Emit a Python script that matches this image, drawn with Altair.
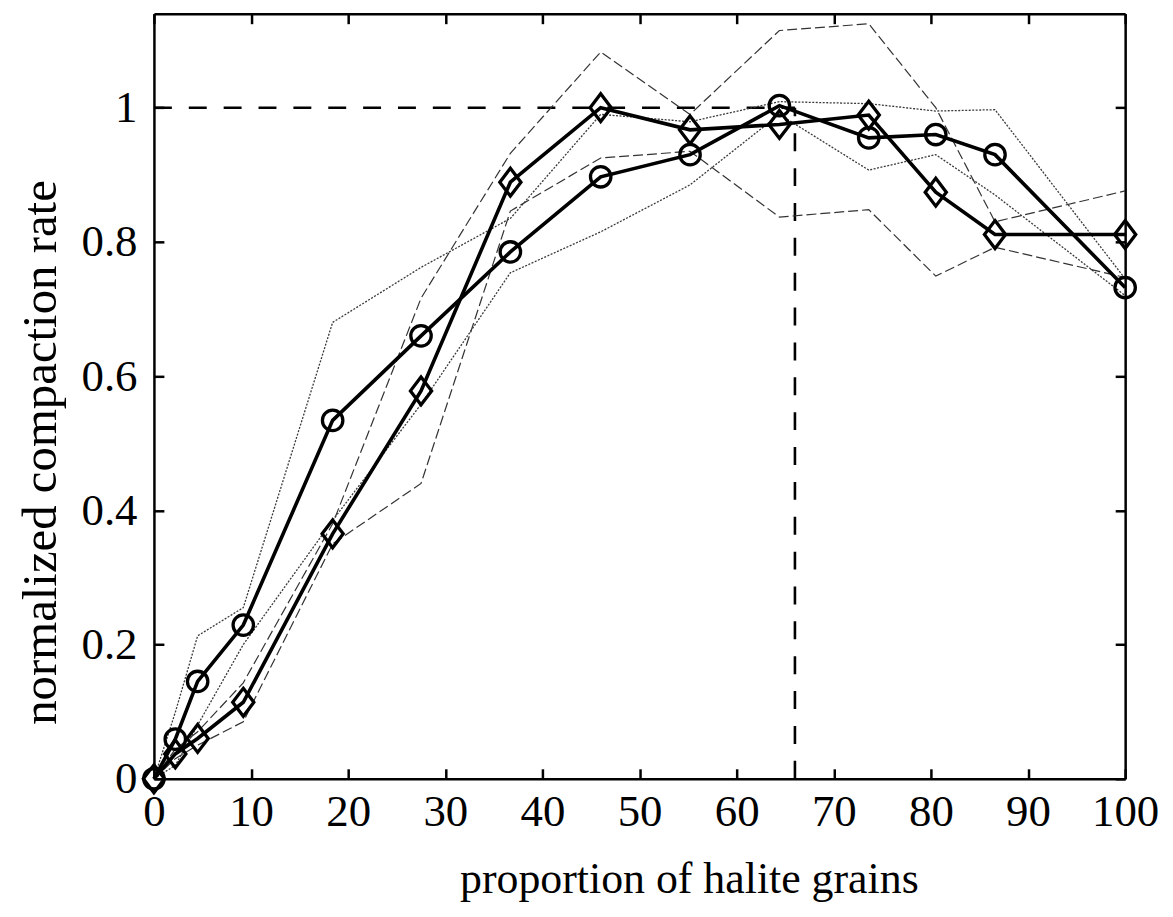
import altair as alt
import pandas as pd

# ---- data ----
X = [0, 2.2, 4.5, 9.2, 18.4, 27.5, 36.7, 46.0, 55.2, 64.4, 73.6, 80.5, 86.6, 100]

CIRCLE = [0, 0.059, 0.145, 0.229, 0.534, 0.660, 0.785, 0.897, 0.930, 1.003, 0.955, 0.960, 0.930, 0.732]
DIAMOND = [0, 0.037, 0.060, 0.114, 0.365, 0.578, 0.889, 1.000, 0.967, 0.975, 0.989, 0.874, 0.811, 0.811]

DASH_1 = [0, 0.044, 0.070, 0.143, 0.380, 0.716, 0.932, 1.083, 0.990, 1.115, 1.125, 1.000, 0.830, 0.876]
DASH_2 = [0, 0.030, 0.050, 0.085, 0.350, 0.440, 0.846, 0.925, 0.935, 0.837, 0.848, 0.749, 0.792, 0.747]

DOT_1 = [0, 0.099, 0.213, 0.255, 0.680, 0.762, 0.835, 0.990, 0.979, 1.009, 1.006, 0.995, 0.997, 0.745]
DOT_2 = [0, 0.020, 0.080, 0.200, 0.385, 0.558, 0.754, 0.815, 0.885, 0.990, 0.907, 0.930, 0.870, 0.720]

REF_X = 66
REF_Y = 1

X_TICKS = [0, 10, 20, 30, 40, 50, 60, 70, 80, 90, 100]
Y_TICKS = [0, 0.2, 0.4, 0.6, 0.8, 1]
X_DOMAIN = [0, 100]
Y_DOMAIN = [0, 1.14]

X_TITLE = "proportion of halite grains"
Y_TITLE = "normalized compaction rate"

# ---- tables ----
def long(series_map):
    rows = []
    for name, vals in series_map.items():
        for i, (x, y) in enumerate(zip(X, vals)):
            rows.append({"series": name, "x": x, "y": y, "order": i})
    return pd.DataFrame(rows)

dashed = long({"dash1": DASH_1, "dash2": DASH_2})
dotted = long({"dot1": DOT_1, "dot2": DOT_2})
circles = long({"circle": CIRCLE})
diamonds = long({"diamond": DIAMOND})
ref = pd.DataFrame({"x": [0, REF_X], "x2": [REF_X, REF_X],
                    "y": [REF_Y, 0], "y2": [REF_Y, REF_Y]})

# ---- layout ----
W, H = 975, 768
FONT = "Liberation Serif"
xs = alt.Scale(domain=X_DOMAIN, nice=False, zero=False)
ys = alt.Scale(domain=Y_DOMAIN, nice=False, zero=False)

common_axis = dict(grid=False, tickSize=10, tickWidth=2.5, tickColor="black",
                   domainColor="black", domainWidth=2.5)

x_axis_main = alt.Axis(
    orient="top", offset=-H, values=X_TICKS, **common_axis,
    labelFont=FONT, labelFontSize=45, labelColor="black",
    labelPadding=-57, labelBaseline="alphabetic", labelAlign="center",
    labelFlush=False, labelOverlap=False,
    title=X_TITLE, titleFont=FONT, titleFontSize=44, titleFontWeight="normal",
    titleColor="black", titleX=537, titleY=114, titleAlign="center",
    titleBaseline="alphabetic", titleAngle=0)

y_axis_main = alt.Axis(
    orient="right", offset=-W, values=Y_TICKS, format="~g", **common_axis,
    labelFont=FONT, labelFontSize=45, labelColor="black",
    labelPadding=-27, labelAlign="right", labelBaseline="middle",
    labelFlush=False, labelOverlap=False,
    title=Y_TITLE, titleFont=FONT, titleFontSize=49, titleFontWeight="normal",
    titleColor="black", titleX=-99, titleY=440, titleAlign="center",
    titleBaseline="alphabetic", titleAngle=270)

x_axis_box = alt.Axis(orient="bottom", offset=-H, values=X_TICKS, labels=False,
                      title="", **common_axis)
y_axis_box = alt.Axis(orient="left", offset=-W, values=Y_TICKS, labels=False,
                      title="", **common_axis)

def enc_xy(xaxis=None, yaxis=None):
    return dict(
        x=alt.X("x:Q", scale=xs, axis=xaxis),
        y=alt.Y("y:Q", scale=ys, axis=yaxis),
    )

ref_layer = alt.Chart(ref).mark_rule(
    color="black", strokeWidth=2.6, strokeDash=[18, 17]
).encode(
    x=alt.X("x:Q", scale=xs, axis=None), x2="x2:Q",
    y=alt.Y("y:Q", scale=ys, axis=None), y2="y2:Q",
)

dashed_layer = alt.Chart(dashed).mark_line(
    color="#333333", strokeWidth=1.2, strokeDash=[10, 4]
).encode(**enc_xy(x_axis_main, y_axis_main), detail="series:N", order="order:Q")

dotted_layer = alt.Chart(dotted).mark_line(
    color="#3a3a3a", strokeWidth=1.3, strokeDash=[2, 1.5]
).encode(**enc_xy(x_axis_box, y_axis_box), detail="series:N", order="order:Q")

bold_c = alt.Chart(circles).mark_line(color="black", strokeWidth=3.6).encode(
    **enc_xy(), order="order:Q")
bold_d = alt.Chart(diamonds).mark_line(color="black", strokeWidth=3.6).encode(
    **enc_xy(), order="order:Q")

circ_pts = alt.Chart(circles).mark_point(
    shape="circle", filled=False, color="black", size=420, strokeWidth=3.3, opacity=1
).encode(**enc_xy())

diam_pts = alt.Chart(diamonds).mark_point(
    shape="M0,-1L0.76,0L0,1L-0.76,0Z", filled=False, color="black",
    size=780, strokeWidth=3.3, opacity=1
).encode(**enc_xy())

chart = alt.layer(
    ref_layer, dashed_layer, dotted_layer, bold_c, bold_d, circ_pts, diam_pts
).resolve_axis(
    x="independent", y="independent"
).properties(
    width=W, height=H,
    autosize=alt.AutoSizeParams(type="none"),
    padding={"left": 146.5, "top": 4, "right": 40, "bottom": 130},
    background="white",
).configure_view(strokeWidth=0)

chart.save("out.html", embed_options={"renderer": "svg", "actions": False})
